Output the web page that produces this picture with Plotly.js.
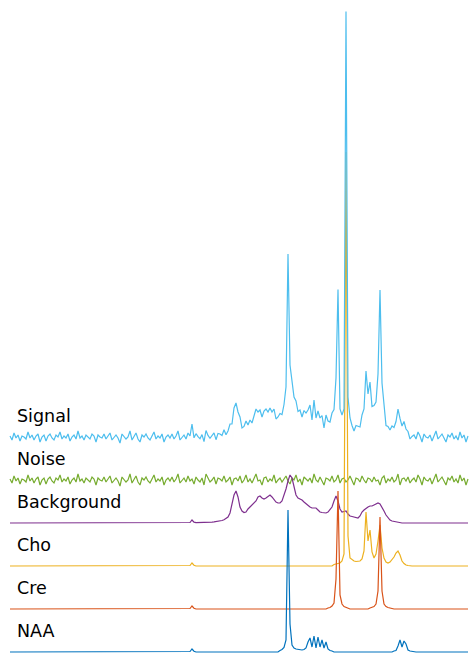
<!DOCTYPE html>
<html>
<head>
<meta charset="utf-8">
<script src="https://cdn.plot.ly/plotly-3.0.1.min.js"></script>
<style>
  html, body { margin: 0; padding: 0; background: #ffffff; }
  #chart { width: 469px; height: 655px; }
</style>
</head>
<body>
<div id="chart"></div>
<script>
// Spectral channel axis (every second channel from 10 to 468)
const firstChannel = 10;
const lastChannel = 468;
const channelStep = 2;

// Component names, bottom to top
const names = ['NAA', 'Cre', 'Cho', 'Background', 'Noise', 'Signal'];

// NAA metabolite spectrum (channel, amplitude)
const naaX = [190, 192, 194,
  280, 282, 284, 286, 288, 290, 292, 294, 296, 298, 300,
  302, 304, 306, 308, 310, 312, 314, 316, 318, 320, 322, 324, 326, 328, 330, 332,
  394, 396, 398, 400, 402, 404, 406, 408, 410, 412];
const naaY = [0.5, 3, 0.8,
  1.5, 2.5, 4.5, 12, 142, 28, 7, 4, 3, 2.5, 2,
  2, 2.5, 4, 10, 14, 5, 16, 4, 15, 5, 12, 4, 10, 3, 1.5, 1,
  1, 1.5, 6, 12, 5, 11, 8, 2, 1, 0.5];

// Creatine spectrum
const creX = [190, 192, 194,
  328, 330, 332, 334, 336, 338, 340, 342, 344, 346, 348,
  370, 372, 374, 376, 378, 380, 382, 384, 386, 388, 390];
const creY = [0.5, 3, 0.8,
  1, 1.5, 3, 6, 30, 118, 14, 5, 2.5, 1.5, 1,
  1, 1.5, 2.5, 5, 18, 92, 18, 5, 2.5, 1.5, 1];

// Choline spectrum
const choX = [190, 192, 194,
  334, 336, 338, 340, 342, 344, 346, 348, 350, 352, 354, 356, 358, 360,
  362, 364, 366, 368, 370, 372, 374, 376, 378, 380, 382, 384, 386, 388,
  390, 392, 394, 396, 398, 400, 402, 404, 406, 408];
const choY = [0.5, 3, 0.8,
  1.5, 2, 2.5, 3, 5, 12, 414, 30, 8, 6, 5, 4.5, 4.5, 5,
  7, 15, 54, 25, 36, 14, 8, 12, 25, 41, 18, 8, 4, 3,
  4, 6, 9, 13, 15, 11, 5, 2.5, 1, 0.5];

// Macromolecular / lipid background
const bgX = [190, 192, 194, 196, 198, 200, 202, 204, 206, 208,
  210, 212, 214, 216, 218, 220, 222, 224, 226, 228,
  230, 232, 234, 236, 238, 240, 242, 244, 246, 248,
  250, 252, 254, 256, 258, 260, 262, 264, 266, 268,
  270, 272, 274, 276, 278, 280, 282, 284, 286, 288,
  290, 292, 294, 296, 298, 300, 302, 304, 306, 308,
  310, 312, 314, 316, 318, 320, 322, 324, 326, 328,
  330, 332, 334, 336, 338, 340, 342, 344, 346, 348,
  350, 352, 354, 356, 358, 360, 362, 364, 366, 368,
  370, 372, 374, 376, 378, 380, 382, 384, 386, 388,
  390, 392, 394, 396, 398, 400];
const bgY = [0.5, 3, 0.8, 0.3, 0.3, 0.3, 0.4, 0.4, 0.5, 0.6,
  0.7, 0.9, 1.1, 1.3, 1.6, 2, 2.5, 3.2, 4.2, 6,
  10, 18, 28, 32, 26, 16, 12, 10.5, 11, 14,
  16, 17, 19, 22, 26, 27, 25, 24, 25, 27,
  28, 26, 23, 21, 20, 20, 22, 27, 34, 42,
  48, 45, 36, 28, 25, 24, 23, 21, 19, 18,
  16, 15, 15, 15, 13, 11, 10.5, 10, 10, 11,
  13, 16, 22, 27, 22, 14, 11, 11.5, 12, 9,
  7, 6.5, 6, 5, 5, 7, 11, 13, 15, 16,
  17, 17, 18, 19, 20, 19, 16, 12, 8, 5,
  3, 2, 1.5, 1, 0.8, 0.6];

// Measurement noise, one value per channel
const noiseY = [
  1, -3, 4, -1, 2, -4, 1, 0, -2, 5, -1, 2, -3, 1, 3, -5, 0, 2, -4, 1,
  3, -1, -3, 2, 0, 5, -2, 1, -1, 3, -4, 0, 2, -2, 6, -1, 1, -3, 2, 0,
  -2, 3, 1, -5, 2, 0, -1, 3, -2, 1, 4, -3, 0, 2, -1, -6, 3, 1, -2, 0,
  6, -3, 1, 4, -2, -5, 2, 0, 3, -1, -3, 2, 5, -2, 1, -1, 3, -5, 0, 2,
  -1, 3, -2, 1, 6, -3, 0, 2, -2, 4, -1, 1, -4, 3, 0, -2, 2, -5, 6, 1,
  -2, 0, 3, -4, 2, 1, -1, 4, -2, 0, 3, -5, 1, 2, -1, 4, -3, 0, 5, -2,
  1, -3, 2, 6, -1, 0, -5, 2, 3, -2, 1, -1, 5, -3, 0, 2, -2, 1, 4, -1,
  -4, 2, 0, 5, -2, 1, -5, 3, 1, -1, 2, -3, 6, 0, -2, 3, -1, -5, 2, 1,
  -1, 4, -2, 0, 5, -3, 1, 2, -2, 0, 4, -1, -5, 2, 1, -2, 4, 0, -3, 2,
  1, -2, 3, -1, 0, -5, 2, 4, -3, 1, -1, 3, -2, 0, 6, -5, 1, 2, -1, 3,
  -3, 0, 2, -2, 5, 1, -5, 3, 0, -1, 2, -4, 1, 6, -2, 0, 3, -1, -5, 2,
  0, 4, -2, 1, -3, 5, -1, 2, -5, 1];

// ---- build traces ----
const channels = [];
for (let c = firstChannel; c <= lastChannel; c += channelStep) channels.push(c);

// put sparse (channel, amplitude) pairs onto the channel axis, zero elsewhere
function onChannels(xs, ys) {
  const table = new Map(xs.map((x, i) => [x, ys[i]]));
  return channels.map(c => (table.has(c) ? table.get(c) : 0));
}

const naa = onChannels(naaX, naaY);
const cre = onChannels(creX, creY);
const cho = onChannels(choX, choY);
const bg = onChannels(bgX, bgY);
const noise = channels.map((c, i) => noiseY[i]);
// measured signal = sum of all components
const signal = channels.map((c, i) => naa[i] + cre[i] + cho[i] + bg[i] + noise[i]);

const series = { NAA: naa, Cre: cre, Cho: cho, Background: bg, Noise: noise, Signal: signal };

// stacking layout
const spacing = 43;
const colors = {
  NAA: '#0072BD', Cre: '#D95319', Cho: '#EDB120',
  Background: '#7E2F8E', Noise: '#77AC30', Signal: '#4DBEEE'
};
const offsetOf = name => names.indexOf(name) * spacing;

// noise and background at the back, metabolites over them, measured signal on top
const drawOrder = ['Noise', 'Background', 'Cho', 'Cre', 'NAA', 'Signal'];
const traces = drawOrder.map(name => ({
  type: 'scatter',
  mode: 'lines',
  x: channels,
  y: series[name].map(v => v + offsetOf(name)),
  line: { color: colors[name], width: 1.2 },
  hoverinfo: 'skip',
  name: name
}));

const annotations = names.map(name => ({
  x: 15, y: offsetOf(name) + 21,
  xref: 'x', yref: 'y',
  xanchor: 'left', yanchor: 'middle',
  text: name, showarrow: false,
  font: { family: 'DejaVu Sans', size: 17.5, color: '#000000' }
}));

const layout = {
  width: 469, height: 655,
  margin: { l: 0, r: 0, t: 0, b: 0 },
  paper_bgcolor: '#ffffff', plot_bgcolor: '#ffffff',
  showlegend: false,
  xaxis: { range: [0, 469], visible: false, fixedrange: true },
  yaxis: { range: [-3, 652], visible: false, fixedrange: true },
  annotations: annotations
};

Plotly.newPlot('chart', traces, layout, { displayModeBar: false, staticPlot: true });
</script>
</body>
</html>
